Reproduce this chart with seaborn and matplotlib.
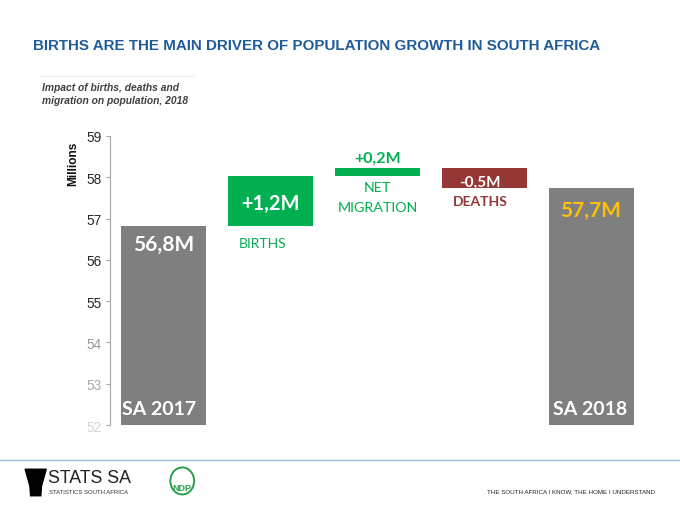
import numpy as np
import pandas as pd
import matplotlib
matplotlib.use("Agg")
import matplotlib.pyplot as plt
import matplotlib.patches as mpatches
import seaborn as sns

# ==========================================================
# DATA
# ==========================================================

categories = ["SA 2017", "BIRTHS", "NET MIGRATION", "DEATHS", "SA 2018"]
pop_2017 = 56.83
births = 1.2
net_migration = 0.2
deaths = -0.5
pop_2018 = 57.73
value_labels = ["56,8M", "+1,2M", "+0,2M", "-0,5M", "57,7M"]
y_ticks = [52, 53, 54, 55, 56, 57, 58, 59]

# waterfall: bottom and top of each bar
y_base = 52
tops = [pop_2017,
        pop_2017 + births,
        pop_2017 + births + net_migration,
        pop_2017 + births + net_migration,
        pop_2018]
bottoms = [y_base,
           pop_2017,
           pop_2017 + births,
           pop_2017 + births + net_migration + deaths,
           y_base]

df = pd.DataFrame({
    "category": categories,
    "height": np.array(tops) - np.array(bottoms),
    "bottom": bottoms,
})

gray = "#7f7f7f"
green = "#00b050"
red = "#953735"
bar_colors = [gray, green, green, red, gray]

# ==========================================================
# FIGURE
# ==========================================================

sns.set_style("white")
plt.rcParams["font.family"] = ["Liberation Sans", "DejaVu Sans"]

fig = plt.figure(figsize=(6.8, 5.1), dpi=100)
ax = fig.add_axes([0.1618, 0.1647, 0.7867, 0.5667])

sns.barplot(data=df, x="category", y="height", order=categories,
            bottom=df["bottom"].to_numpy(), color=gray, width=0.8,
            linewidth=0, ax=ax)
for patch, c in zip(ax.patches, bar_colors):
    patch.set_facecolor(c)
    patch.set_edgecolor(c)

ax.set_ylim(52, 59)
ax.set_xlim(-0.5, 4.5)
ax.set_yticks(y_ticks)
ax.set_yticklabels([str(t) for t in y_ticks], fontsize=9.8)
tick_cols = ["#d4d4d4", "#a8a8a8", "#9a9a9a", "#262626", "#262626",
             "#262626", "#262626", "#262626"]
for lab, c in zip(ax.get_yticklabels(), tick_cols):
    lab.set_color(c)
ax.tick_params(axis="y", left=True, length=3, width=0.8, color="#a6a6a6", pad=3)
ax.set_xticks([])
ax.set_xlabel("")
ax.set_ylabel("")
for s in ["top", "right", "bottom"]:
    ax.spines[s].set_visible(False)
ax.spines["left"].set_color("#a6a6a6")
ax.spines["left"].set_linewidth(0.8)

fig.text(0.107, 0.678, "Millions", rotation=90, fontsize=8.6,
         fontweight="bold", color="#111111", ha="center", va="center")

# ==========================================================
# BAR LABELS
# ==========================================================

lab_font = ["Lato", "DejaVu Sans"]
big = dict(ha="center", va="center", fontweight="bold", family=lab_font)

ax.text(0, tops[0] - 0.445, value_labels[0], color="white", fontsize=15, **big)
ax.text(-0.04, 52.39, categories[0], color="white", fontsize=14, **big)

ax.text(1, (tops[1] + bottoms[1]) / 2 - 0.05, value_labels[1], color="white",
        fontsize=14.5, **big)
ax.text(0.93, bottoms[1] - 0.42, categories[1], ha="center", va="center",
        color=green, fontsize=10, family=lab_font)

ax.text(2, tops[2] + 0.25, value_labels[2], color=green, fontsize=11.5, **big)
ax.text(2, bottoms[2] - 0.265, "NET", ha="center", va="center",
        color=green, fontsize=10.3, family=lab_font)
ax.text(2, bottoms[2] - 0.75, "MIGRATION", ha="center", va="center",
        color=green, fontsize=10.3, family=lab_font)

ax.text(2.96, (tops[3] + bottoms[3]) / 2 - 0.08, value_labels[3], color="white",
        fontsize=11, **big)
ax.text(2.96, bottoms[3] - 0.3, categories[3], color=red, fontsize=10, **big)

ax.text(3.99, tops[4] - 0.52, value_labels[4], color="#ffc000", fontsize=15, **big)
ax.text(3.99, 52.41, categories[4], color="white", fontsize=14, **big)

# ==========================================================
# HEADER / FOOTER
# ==========================================================

fig.text(0.049, 0.909, "BIRTHS ARE THE MAIN DRIVER OF POPULATION GROWTH IN SOUTH AFRICA",
         fontsize=10.9, fontweight="bold", color="#1f5c99", ha="left", va="center")

fig.add_artist(plt.Line2D([0.058, 0.285], [0.849, 0.849], color="#ececec", lw=0.8))
fig.text(0.062, 0.815, "Impact of births, deaths and\nmigration on population, 2018",
         fontsize=7.4, fontweight="bold", style="italic", color="#404040",
         ha="left", va="center", linespacing=1.3)

fig.add_artist(plt.Line2D([0, 1], [0.096, 0.096], color="#9dc3e6", lw=1.0))

# stats sa mark
fig.add_artist(mpatches.Polygon([[0.037, 0.078], [0.068, 0.078], [0.061, 0.045],
                                 [0.060, 0.026], [0.045, 0.026], [0.044, 0.045]],
                                closed=True, color="black", transform=fig.transFigure))
fig.text(0.071, 0.062, "STATS SA", fontsize=12.8, color="#222222", ha="left",
         va="center")
fig.text(0.072, 0.035, "STATISTICS SOUTH AFRICA", fontsize=4.3, color="#333333",
         ha="left", va="center")

# ndp mark
fig.add_artist(mpatches.Ellipse((0.268, 0.055), 0.035, 0.053, transform=fig.transFigure,
                                facecolor="white", edgecolor="#2a9d4a", lw=1.4))
fig.text(0.268, 0.043, "NDP", fontsize=6.5, fontweight="bold", color="#2a9d4a",
         ha="center", va="center")

fig.text(0.963, 0.035, "THE SOUTH AFRICA I KNOW, THE HOME I UNDERSTAND",
         fontsize=4.5, color="#222222", ha="right", va="center")

fig.savefig("out.png", dpi=100, facecolor="white")
